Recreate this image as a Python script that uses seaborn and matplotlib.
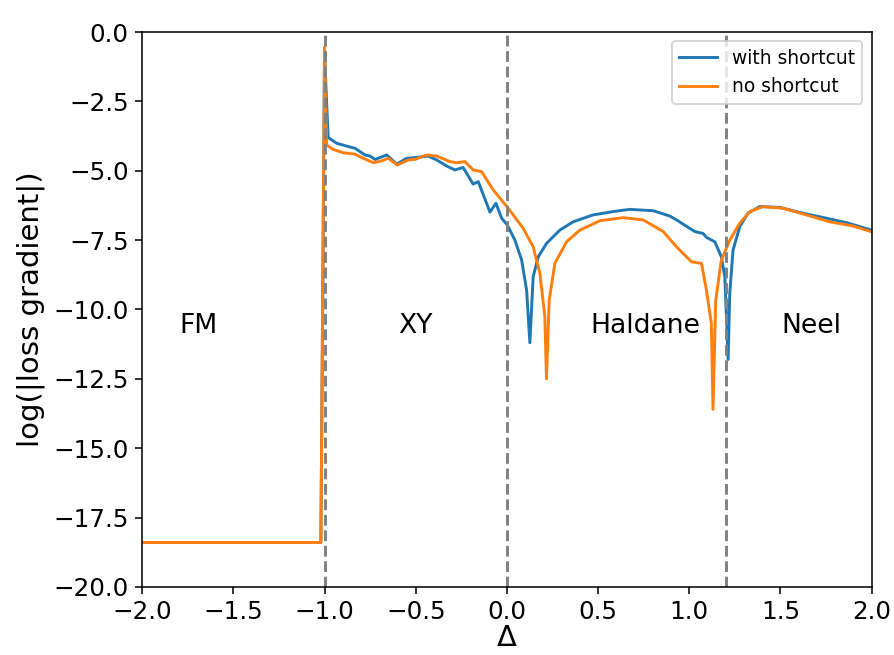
import matplotlib
matplotlib.use("Agg")
import matplotlib.pyplot as plt
import seaborn as sns
import pandas as pd

# with shortcut
blue_x = [-2.0, -1.5, -1.02, -1.0, -0.98, -0.933, -0.878, -0.833, -0.778, -0.75, -0.723,
          -0.659, -0.604, -0.55, -0.495, -0.431, -0.385, -0.33, -0.285, -0.24, -0.185,
          -0.157, -0.093, -0.06, -0.029, 0.002, 0.044, 0.081, 0.108, 0.126, 0.144, 0.172,
          0.217, 0.29, 0.363, 0.473, 0.583, 0.674, 0.802, 0.893, 0.93, 1.03, 1.076, 1.094,
          1.14, 1.176, 1.195, 1.213, 1.222, 1.24, 1.277, 1.322, 1.386, 1.496, 1.624, 1.752,
          1.862, 2.0]
blue_y = [-18.4, -18.4, -18.4, -0.8, -3.8, -4.01, -4.11, -4.19, -4.43, -4.47, -4.59,
          -4.43, -4.76, -4.55, -4.52, -4.47, -4.61, -4.83, -4.97, -4.88, -5.48,
          -5.39, -6.49, -6.17, -6.71, -6.95, -7.5, -8.22, -9.3, -11.2, -8.82, -8.1,
          -7.62, -7.14, -6.84, -6.59, -6.47, -6.39, -6.44, -6.63, -6.77, -7.19, -7.26, -7.4,
          -7.56, -8.1, -8.82, -11.8, -9.42, -7.86, -7.01, -6.53, -6.29, -6.32, -6.53, -6.71,
          -6.87, -7.14]

# no shortcut
orange_x = [-2.0, -1.5, -1.02, -1.0, -0.988, -0.952, -0.897, -0.833, -0.787, -0.732, -0.687,
            -0.65, -0.601, -0.541, -0.504, -0.44, -0.385, -0.312, -0.276, -0.23, -0.185,
            -0.139, -0.075, 0.007, 0.089, 0.144, 0.181, 0.208, 0.217, 0.232, 0.263, 0.327,
            0.4, 0.51, 0.637, 0.747, 0.857, 0.93, 1.012, 1.067, 1.094, 1.121, 1.13, 1.145,
            1.176, 1.222, 1.277, 1.332, 1.405, 1.514, 1.642, 1.77, 1.898, 2.0]
orange_y = [-18.4, -18.4, -18.4, -0.55, -4.07, -4.23, -4.35, -4.4, -4.55, -4.71, -4.64,
            -4.55, -4.79, -4.61, -4.59, -4.43, -4.47, -4.67, -4.71, -4.67, -4.97,
            -5.03, -5.69, -6.35, -7.07, -7.74, -8.7, -10.26, -12.5, -9.66, -8.34, -7.56,
            -7.14, -6.8, -6.69, -6.77, -7.19, -7.74, -8.28, -8.34, -9.3, -10.5, -13.6, -9.66,
            -8.22, -7.5, -6.89, -6.47, -6.29, -6.35, -6.59, -6.84, -6.99, -7.2]

series_names = ["with shortcut", "no shortcut"]
phase_lines = [-1.0, 0.0, 1.2]
phase_labels = ["FM", "XY", "Haldane", "Neel"]
phase_label_x = [-1.69, -0.5, 0.76, 1.67]
phase_label_y = -10.6

df_blue = pd.DataFrame({"x": blue_x, "y": blue_y})
df_orange = pd.DataFrame({"x": orange_x, "y": orange_y})

DPI = 140
fig = plt.figure(figsize=(894 / DPI, 655 / DPI), dpi=DPI)
ax = fig.add_axes([0.159, 0.104, 0.816, 0.847])

sns.lineplot(data=df_blue, x="x", y="y", ax=ax, color="#1f77b4", lw=1.5,
             label=series_names[0], sort=False, estimator=None)
sns.lineplot(data=df_orange, x="x", y="y", ax=ax, color="#ff7f0e", lw=1.5,
             label=series_names[1], sort=False, estimator=None)

for v in phase_lines:
    ax.axvline(v, color="gray", ls="--", lw=1.5)

for t, xx in zip(phase_labels, phase_label_x):
    ax.text(xx, phase_label_y, t, fontsize=13.7, ha="center", va="center")

ax.set_xlim(-2, 2)
ax.set_ylim(-20, 0)
ax.set_xlabel("Δ", fontsize=15, labelpad=0)
ax.set_ylabel("log(|loss gradient|)", fontsize=15)
ax.tick_params(labelsize=12.7)
ax.legend(loc="upper right", fontsize=9.6)

fig.savefig("out.png", dpi=DPI)
